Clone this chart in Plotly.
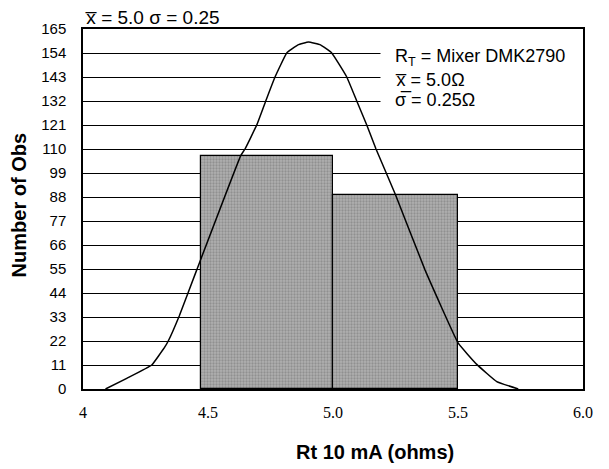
import plotly.graph_objects as go

# ---- data ----
bin_edges = [4.47, 5.0, 5.5]
bin_counts = [107, 89]
curve_x = [4.09, 4.175, 4.275, 4.328, 4.341, 4.385, 4.455, 4.631, 4.648, 4.695, 4.731,
           4.768, 4.815, 4.86, 4.902, 4.95, 4.995, 5.055, 5.095, 5.135, 5.172, 5.25,
           5.368, 5.501, 5.575, 5.655, 5.741]
curve_y = [0, 4.9, 11, 19.4, 22, 33.5, 54.6, 107, 110, 121, 132,
           143, 154, 157.7, 159, 157.7, 154, 143, 132, 121, 110, 89,
           54.6, 21, 11.3, 3.4, 0]
y_ticks = [0, 11, 22, 33, 44, 55, 66, 77, 88, 99, 110, 121, 132, 143, 154, 165]
x_ticks = [4, 4.5, 5.0, 5.5, 6.0]
x_tick_labels = ["4", "4.5", "5.0", "5.5", "6.0"]

centers = [(bin_edges[i] + bin_edges[i + 1]) / 2 for i in range(len(bin_counts))]
widths = [bin_edges[i + 1] - bin_edges[i] for i in range(len(bin_counts))]

XBAR = "x\u0305"
SBAR = "\u03c3\u0305"

fig = go.Figure()
fig.add_trace(go.Bar(
    x=centers, y=bin_counts, width=widths,
    marker=dict(color="#9e9e9e", line=dict(color="black", width=1.2),
                pattern=dict(shape=".", fgcolor="#707070", bgcolor="#b0b0b0", size=3, solidity=0.45)),
    hoverinfo="skip", showlegend=False,
))
fig.add_trace(go.Scatter(
    x=curve_x, y=curve_y, mode="lines",
    line=dict(color="black", width=1.5, shape="spline", smoothing=0.3),
    hoverinfo="skip", showlegend=False,
))

fig.update_layout(
    width=609, height=469,
    margin=dict(l=75, r=34, t=21, b=88),
    paper_bgcolor="white", plot_bgcolor="white",
    font=dict(family="Liberation Sans, Arial, sans-serif", color="black"),
    bargap=0,
)
fig.update_xaxes(
    range=[4, 6], tickvals=x_ticks, ticktext=x_tick_labels,
    showgrid=False, zeroline=False, showline=True, linecolor="black", linewidth=1.5,
    mirror=True, ticks="", ticklabelstandoff=8,
    tickfont=dict(family="Liberation Serif, Times New Roman, serif", size=16, color="black"),
)
fig.update_yaxes(
    range=[0, 165], tickvals=y_ticks,
    showgrid=True, gridcolor="black", gridwidth=1.3, zeroline=False,
    showline=True, linecolor="black", linewidth=1.5, mirror=True,
    ticks="", ticklabelstandoff=12,
    tickfont=dict(family="Liberation Sans, Arial, sans-serif", size=15, color="black"),
)

# white box behind the legend text
fig.add_shape(type="rect", xref="x", yref="y", x0=5.19, x1=6.02, y0=125.5, y1=158.5,
              fillcolor="white", line=dict(width=0), layer="above")

txt = dict(family="Liberation Sans, Arial, sans-serif", size=18, color="black")
fig.add_annotation(text=XBAR + " = 5.0 \u03c3 = 0.25", xref="paper", yref="paper",
                   x=0, y=1.0, xanchor="left", yanchor="bottom", yshift=-1,
                   showarrow=False, font=dict(family="Liberation Sans, Arial, sans-serif", size=19, color="black"))
fig.add_annotation(text="R<sub>T</sub> = Mixer DMK2790", xref="x", yref="y",
                   x=5.24, y=151.8, xanchor="left", yanchor="middle", showarrow=False, font=txt)
fig.add_annotation(text=XBAR + " = 5.0\u03a9", xref="x", yref="y",
                   x=5.24, y=141.7, xanchor="left", yanchor="middle", showarrow=False, font=txt)
fig.add_annotation(text=SBAR + " = 0.25\u03a9", xref="x", yref="y",
                   x=5.24, y=132.6, xanchor="left", yanchor="middle", showarrow=False, font=txt)

bold = dict(family="Liberation Sans, Arial, sans-serif", size=20, color="black")
fig.add_annotation(text="<b>Number of Obs</b>", xref="paper", yref="paper",
                   x=-0.128, y=0.51, xanchor="center", yanchor="middle", textangle=-90,
                   showarrow=False, font=bold)
fig.add_annotation(text="<b>Rt 10 mA (ohms)</b>", xref="paper", yref="paper",
                   x=0.584, y=-0.175, xanchor="center", yanchor="middle",
                   showarrow=False, font=bold)

fig.write_html("out.html")
